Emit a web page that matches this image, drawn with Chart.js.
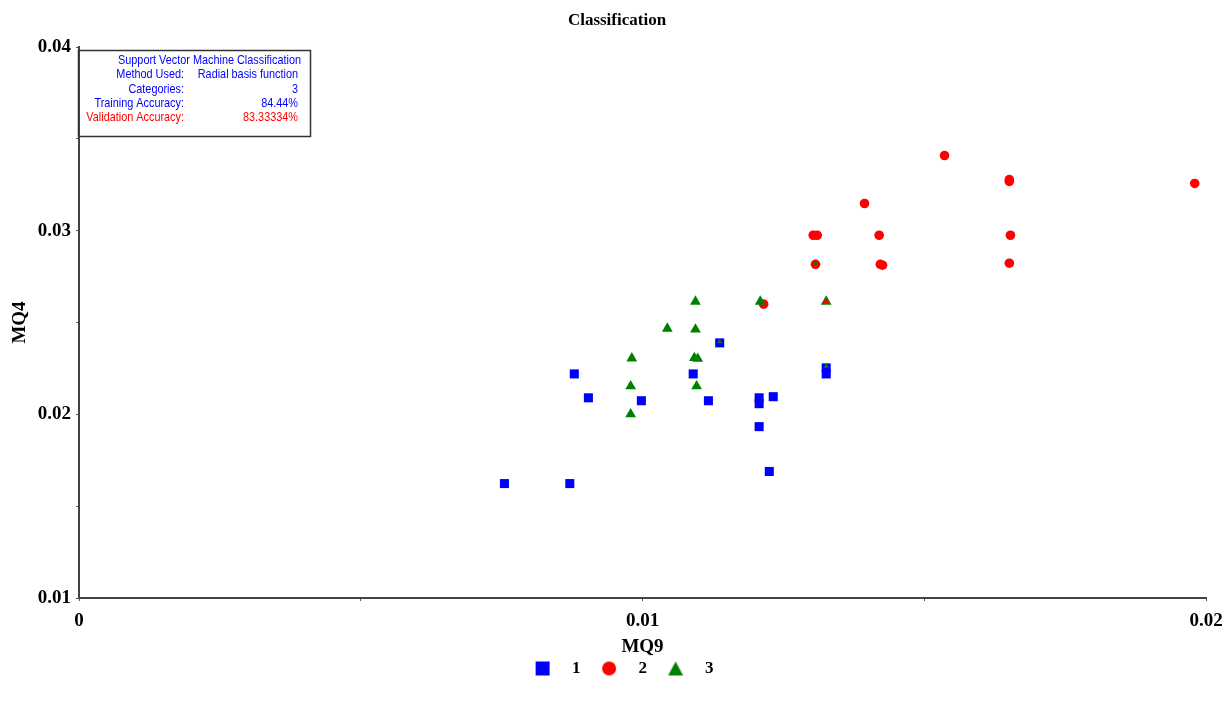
<!DOCTYPE html>
<html>
<head>
<meta charset="utf-8">
<title>Classification</title>
<script src="https://cdn.jsdelivr.net/npm/chart.js@4.4.1/dist/chart.umd.min.js"></script>
<style>
  html, body { margin: 0; padding: 0; background: #fff; }
  #wrap { position: relative; width: 1227px; height: 706px; }
</style>
</head>
<body>
<div id="wrap"><canvas id="svmChart"></canvas></div>
<script>
// Lớp 1 (xanh dương, hình vuông)
const class1X = [0.00755, 0.00871, 0.00879, 0.00904, 0.00998, 0.0109, 0.01117, 0.01137,
                 0.01207, 0.01207, 0.01232, 0.01207, 0.01225, 0.01326, 0.01326];
const class1Y = [0.01623, 0.01623, 0.0222, 0.0209, 0.02074, 0.0222, 0.02074, 0.02389,
                 0.0209, 0.02058, 0.02096, 0.01933, 0.01689, 0.02253, 0.0222];

// Lớp 2 (đỏ, hình tròn)
const class2X = [0.01536, 0.01651, 0.01651, 0.0198, 0.01394, 0.01303, 0.0131, 0.0142,
                 0.01653, 0.01307, 0.01422, 0.01426, 0.01651, 0.01215];
const class2Y = [0.03409, 0.03278, 0.03268, 0.03257, 0.03148, 0.02975, 0.02975, 0.02975,
                 0.02975, 0.02817, 0.02817, 0.02812, 0.02823, 0.0260];

// Lớp 3 (xanh lá, tam giác)
const class3X = [0.01094, 0.01209, 0.01326, 0.01044, 0.01094, 0.00981, 0.01092, 0.01098,
                 0.00979, 0.01096, 0.00979];
const class3Y = [0.02614, 0.02614, 0.02614, 0.02467, 0.02462, 0.02305, 0.02307, 0.02303,
                 0.02153, 0.02153, 0.02001];

// Dấu nhỏ nằm bên trong dấu khác
const innerTriX = [0.01137, 0.01326, 0.01307];
const innerTriY = [0.02395, 0.02262, 0.02822];
const innerDotX = [0.01326];
const innerDotY = [0.02614];

const xTicks = [0, 0.005, 0.01, 0.015, 0.02];
const yTicks = [0.01, 0.015, 0.02, 0.025, 0.03, 0.035, 0.04];
const legendText = ["   1   ", "   2   ", "   3"];

const infoHeader = "Support Vector Machine Classification";
const infoLabels = ["Method Used:", "Categories:", "Training Accuracy:", "Validation Accuracy:"];
const infoValues = ["Radial basis function", "3", "84.44%", "83.33334%"];

const BLUE = "#0000ff", RED = "#ff0000", GREEN = "#008000";
const SERIF = "'Liberation Serif', 'Times New Roman', serif";

const pts = (xs, ys) => xs.map((x, i) => ({ x, y: ys[i] }));

// icon cho legend
function makeIcon(kind, color) {
  const c = document.createElement("canvas");
  c.width = 16; c.height = 16;
  const g = c.getContext("2d");
  g.fillStyle = color;
  if (kind === "rect") g.fillRect(1, 1, 14, 14);
  else if (kind === "circle") { g.beginPath(); g.arc(8, 8, 7, 0, Math.PI * 2); g.fill(); }
  else { g.beginPath(); g.moveTo(8, 1); g.lineTo(15.5, 15); g.lineTo(0.5, 15); g.closePath(); g.fill(); }
  return c;
}
const legendIcons = [makeIcon("rect", BLUE), makeIcon("circle", RED), makeIcon("triangle", GREEN)];
const legendColors = [BLUE, RED, GREEN];

// chỉ ghi nhãn ở bội số 0.01
function fmtTick(v) {
  const r = Math.round(v * 1000);
  if (r % 10 !== 0) return "";
  return r === 0 ? "0" : String(r / 1000);
}

// Ô thông tin góc trên trái
const infoBox = {
  id: "infoBox",
  afterLayout(chart) {
    // dời legend + tiêu đề cho giống bản gốc
    const lg = chart.legend;
    if (lg) { lg.left = 42; lg.top -= 2; lg.bottom -= 2; }
    if (chart.titleBlock) chart.titleBlock.left = 28;
  },
  afterDraw(chart) {
    const ctx = chart.ctx;
    const { left, top } = chart.chartArea;
    ctx.save();
    ctx.strokeStyle = "#333";
    ctx.lineWidth = 1.5;
    ctx.strokeRect(left - 0.5, top + 3.5, 232, 86);

    ctx.font = "13px 'Liberation Sans', Arial, sans-serif";
    const sx = 183 / ctx.measureText(infoHeader).width; // nén ngang như font narrow
    ctx.textBaseline = "middle";
    ctx.textAlign = "right";
    const drawT = (t, xr, y, col) => {
      ctx.save();
      ctx.translate(xr, y);
      ctx.scale(sx, 1);
      ctx.fillStyle = col;
      ctx.fillText(t, 0, 0);
      ctx.restore();
    };
    drawT(infoHeader, left + 222, top + 13.5, BLUE);
    infoLabels.forEach((lab, i) => {
      const y = top + 27.8 + i * 14.3;
      const col = i === 3 ? RED : BLUE;
      drawT(lab, left + 105, y, col);
      drawT(infoValues[i], left + 219, y, col);
    });
    ctx.restore();
  }
};

Chart.defaults.color = "#000";
Chart.defaults.font.family = SERIF;

new Chart(document.getElementById("svmChart"), {
  type: "scatter",
  data: {
    datasets: [
      { label: "1", data: pts(class1X, class1Y), pointStyle: "rect", pointRadius: 6.4,
        backgroundColor: BLUE, borderColor: BLUE, pointBorderWidth: 0, order: 2 },
      { label: "2", data: pts(class2X, class2Y), pointStyle: "circle", pointRadius: 4.8,
        backgroundColor: RED, borderColor: RED, pointBorderWidth: 0, order: 3 },
      { label: "3", data: pts(class3X, class3Y), pointStyle: "triangle", pointRadius: 6.2,
        backgroundColor: GREEN, borderColor: GREEN, pointBorderWidth: 0, order: 1 },
      { label: "inner3", data: pts(innerTriX, innerTriY), pointStyle: "triangle", pointRadius: 3,
        backgroundColor: GREEN, borderColor: GREEN, pointBorderWidth: 0, order: 0 },
      { label: "inner2", data: pts(innerDotX, innerDotY), pointStyle: "circle", pointRadius: 2.5,
        backgroundColor: RED, borderColor: RED, pointBorderWidth: 0, order: 0 }
    ]
  },
  options: {
    responsive: true,
    maintainAspectRatio: false,
    animation: false,
    layout: { padding: { left: 0, right: 21, top: 2, bottom: 17 } },
    scales: {
      x: {
        type: "linear",
        min: 0, max: 0.02,
        afterFit(s) { s.height = 56; s.paddingLeft = 0; s.paddingRight = 0; },
        afterBuildTicks(s) { s.ticks = xTicks.map(v => ({ value: v })); },
        ticks: { callback: fmtTick, autoSkip: false, maxRotation: 0, padding: 9,
                 font: { family: SERIF, size: 19, weight: "bold" }, color: "#000" },
        grid: { drawOnChartArea: false, drawTicks: true, tickLength: 3, color: "#555" },
        border: { display: true, color: "#444", width: 2 },
        title: { display: true, text: "MQ9", color: "#000", padding: { top: 0, bottom: -4.4 },
                 font: { family: SERIF, size: 19, weight: "bold" } }
      },
      y: {
        type: "linear",
        min: 0.01, max: 0.04,
        afterFit(s) { s.width = 79; },
        afterBuildTicks(s) { s.ticks = yTicks.map(v => ({ value: v })); },
        ticks: { callback: fmtTick, autoSkip: false, padding: 5,
                 font: { family: SERIF, size: 19, weight: "bold" }, color: "#000" },
        grid: { drawOnChartArea: false, drawTicks: true, tickLength: 3, color: "#555" },
        border: { display: true, color: "#444", width: 2 },
        title: { display: true, text: "MQ4", color: "#000", padding: { top: 8.6, bottom: 0 },
                 font: { family: SERIF, size: 19, weight: "bold" } }
      }
    },
    plugins: {
      title: { display: true, text: "Classification", color: "#000",
               font: { family: SERIF, size: 17, weight: "bold" },
               padding: { top: 8.8, bottom: 15.8 } },
      legend: {
        position: "bottom",
        labels: {
          usePointStyle: true,
          boxWidth: 16,
          padding: 8,
          color: "#000",
          font: { family: SERIF, size: 17, weight: "bold" },
          generateLabels(chart) {
            return legendText.map((t, i) => ({
              text: t,
              fillStyle: legendColors[i],
              strokeStyle: legendColors[i],
              lineWidth: 0,
              pointStyle: legendIcons[i],
              hidden: !chart.isDatasetVisible(i),
              datasetIndex: i,
              fontColor: "#000"
            }));
          }
        }
      },
      tooltip: { enabled: false }
    }
  },
  plugins: [infoBox]
});
</script>
</body>
</html>
